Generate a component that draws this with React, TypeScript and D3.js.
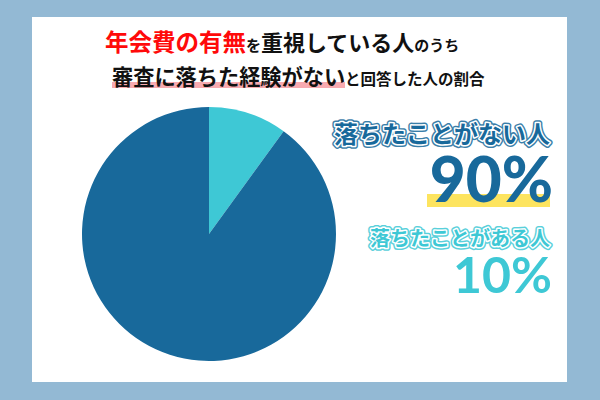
import React from 'react';
import * as d3 from 'd3';

// data
const categories = ['落ちたことがある人', '落ちたことがない人'];
const values = [10, 90];
const colors = ['#3ec8d5', '#18699b'];

const width = 600;
const height = 400;

const jp = '"Noto Sans CJK JP", sans-serif';
const num = 'Lato, "Noto Sans", sans-serif';

// label with white inner outline and coloured outer outline
const OutlinedLabel = ({ x, y, size, color, text }: { x: number; y: number; size: number; color: string; text: string }) => (
  <g fontFamily={jp} fontWeight={700} fontSize={size} textAnchor="end" strokeLinejoin="round">
    <text x={x} y={y} fill={color} stroke={color} strokeWidth={6} opacity={0.85}>
      {text}
    </text>
    <text x={x} y={y} fill={color} stroke="#ffffff" strokeWidth={3} paintOrder="stroke">
      {text}
    </text>
  </g>
);

export default function App() {
  // pie starting at 12 o'clock, clockwise, in given order
  const pie = d3
    .pie<number>()
    .sort(null)
    .value((d) => d);
  const arcs = pie(values);
  const arc = d3.arc<d3.PieArcDatum<number>>().innerRadius(0).outerRadius(127);

  return (
    <div style={{ position: 'fixed', left: 0, top: 0 }}>
      <svg width={width} height={height} style={{ display: 'block' }}>
        <rect x={0} y={0} width={width} height={height} fill="#93b9d4" />
        <rect x={32} y={17} width={535} height={365} fill="#ffffff" />

        {/* title */}
        <rect x={112} y={82} width={233} height={6} fill="#f8aab0" />
        <text x={105} y={51} fontFamily={jp} fontWeight={700} fill="#111">
          <tspan fill="#ff0a0a" fontSize={23.5}>年会費の有無</tspan>
          <tspan fontSize={15}>を</tspan>
          <tspan fontSize={22}>重視している人</tspan>
          <tspan fontSize={15}>のうち</tspan>
        </text>
        <text x={112} y={85} fontFamily={jp} fontWeight={700} fill="#111">
          <tspan fontSize={21.2}>審査に落ちた経験がない</tspan>
          <tspan fontSize={15.5}>と回答した人の割合</tspan>
        </text>

        {/* pie */}
        <g transform="translate(209,234)">
          {arcs.map((a, i) => (
            <path key={categories[i]} d={arc(a) || ''} fill={colors[i]} />
          ))}
        </g>

        {/* labels */}
        <OutlinedLabel x={550} y={143} size={24} color={colors[1]} text={categories[1]} />
        <rect x={427} y={194} width={123} height={13} fill="#fde45f" />
        <text
          x={553}
          y={202}
          textAnchor="end"
          fontFamily={num}
          fontWeight={900}
          fontSize={62}
          fill={colors[1]}
        >
          {values[1]}%
        </text>
        <OutlinedLabel x={550} y={246} size={20} color={colors[0]} text={categories[0]} />
        <text
          x={552}
          y={293}
          textAnchor="end"
          fontFamily={num}
          fontWeight={700}
          fontSize={50}
          fill={colors[0]}
        >
          {values[0]}%
        </text>
      </svg>
    </div>
  );
}
